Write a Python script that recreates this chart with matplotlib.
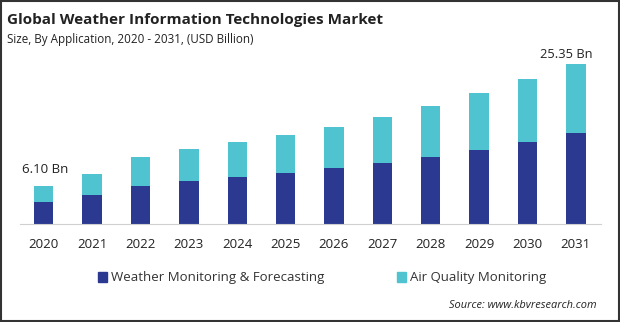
import matplotlib
matplotlib.use("Agg")
import matplotlib.pyplot as plt
from matplotlib.patches import Rectangle, Patch
import numpy as np

plt.rcParams['font.family'] = ['Open Sans', 'DejaVu Sans']

years = ['2020', '2021', '2022', '2023', '2024', '2025',
         '2026', '2027', '2028', '2029', '2030', '2031']
weather = [3.5, 4.6, 6.0, 6.8, 7.5, 8.1, 8.9, 9.7, 10.6, 11.7, 13.0, 14.4]
air_quality = [2.6, 3.3, 4.6, 5.1, 5.5, 6.0, 6.5, 7.3, 8.1, 9.1, 10.0, 10.95]
series_names = ['Weather Monitoring & Forecasting', 'Air Quality Monitoring']
end_labels = ['6.10 Bn', '25.35 Bn']

c_dark = '#2b3990'
c_light = '#4fc3cf'

fig = plt.figure(figsize=(6.2, 3.22), dpi=100)
ax = fig.add_axes([20 / 620, 98 / 322, 581 / 620, 169 / 322])

x = np.arange(len(years))
ax.bar(x, weather, width=0.4, color=c_dark)
ax.bar(x, air_quality, width=0.4, bottom=weather, color=c_light)

ax.set_xlim(-0.49, 11.52)
ax.set_ylim(0, 26.8)
ax.set_xticks(x)
ax.set_xticklabels(years, fontsize=9.5, color='#222222')
ax.tick_params(axis='x', length=0, pad=10)
ax.set_yticks([])
for s in ['top', 'right', 'left']:
    ax.spines[s].set_visible(False)
ax.spines['bottom'].set_color('#d0d0d0')

# value labels on first and last bar
tot0 = weather[0] + air_quality[0]
tot1 = weather[-1] + air_quality[-1]
ax.annotate(end_labels[0], (x[0], tot0), xytext=(1, 7), textcoords='offset points',
            ha='center', va='bottom', fontsize=9.5, color='#222222')
ax.annotate(end_labels[1], (x[-1], tot1), xytext=(-7, 2), textcoords='offset points',
            ha='center', va='bottom', fontsize=9.3, color='#222222', annotation_clip=False)

# titles
fig.text(7 / 620, 1 - 20 / 322, 'Global Weather Information Technologies Market',
         fontsize=11, fontweight='bold', color='#222222', va='center')
fig.text(7 / 620, 1 - 39 / 322, 'Size, By Application, 2020 - 2031, (USD Billion)',
         fontsize=8.4, color='#222222', va='center')

# legend
handles = [Patch(color=c_dark), Patch(color=c_light)]
fig.legend(handles, series_names, loc='center', bbox_to_anchor=(322 / 620, 1 - 278 / 322),
           ncol=2, frameon=False, fontsize=9.5, handlelength=0.7, handleheight=0.7,
           handletextpad=0.3, columnspacing=5.5, labelcolor='#333333')

fig.text(597 / 620, 1 - 306 / 322, 'Source: www.kbvresearch.com', fontsize=7.9,
         style='italic', ha='right', va='center', color='#222222')

# outer frame
fig.patches.append(Rectangle((0.001, 0.002), 0.997, 0.995, transform=fig.transFigure,
                             fill=False, edgecolor='#333333', linewidth=1.5))

fig.savefig('out.png', dpi=100)
